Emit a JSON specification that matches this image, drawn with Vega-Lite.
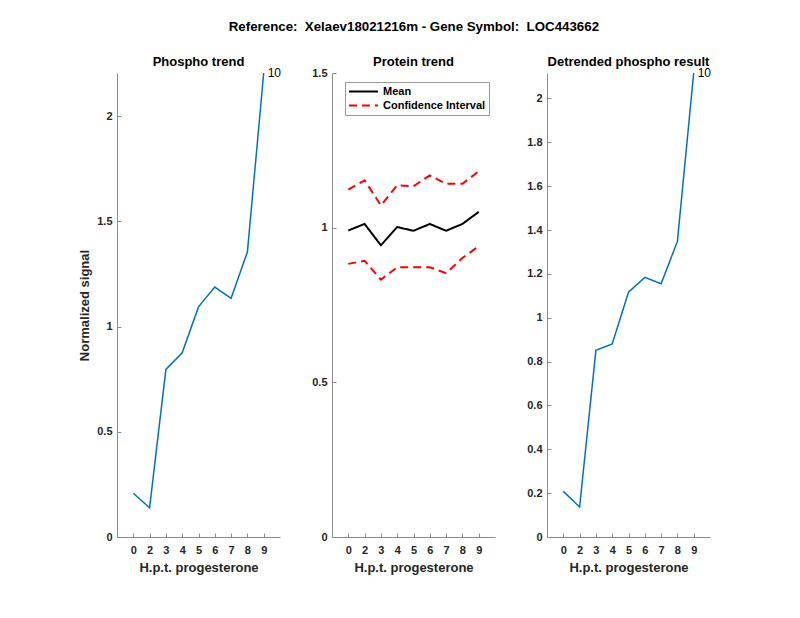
{
  "$schema": "https://vega.github.io/schema/vega-lite/v6.json",
  "padding": {"left": 78, "top": 19, "right": 5, "bottom": 5},
  "background": "white",
  "title": {"text": "Reference: \u00a0Xelaev18021216m - Gene Symbol: \u00a0LOC443662", "fontSize": 13.3, "fontWeight": "bold", "color": "#000000", "anchor": "middle", "offset": 23, "frame": "bounds", "dx": 19},
  "datasets": {
    "phospho": [
      {"hpt": 0, "signal": 0.208},
      {"hpt": 2, "signal": 0.139},
      {"hpt": 3, "signal": 0.797},
      {"hpt": 4, "signal": 0.876},
      {"hpt": 5, "signal": 1.094},
      {"hpt": 6, "signal": 1.188},
      {"hpt": 7, "signal": 1.135},
      {"hpt": 8, "signal": 1.355},
      {"hpt": 9, "signal": 2.206, "label": "10"}
    ],
    "protein": [
      {"hpt": 0, "signal": 0.991, "series": "Mean", "type": "Mean"},
      {"hpt": 2, "signal": 1.012, "series": "Mean", "type": "Mean"},
      {"hpt": 3, "signal": 0.943, "series": "Mean", "type": "Mean"},
      {"hpt": 4, "signal": 1.002, "series": "Mean", "type": "Mean"},
      {"hpt": 5, "signal": 0.990, "series": "Mean", "type": "Mean"},
      {"hpt": 6, "signal": 1.012, "series": "Mean", "type": "Mean"},
      {"hpt": 7, "signal": 0.990, "series": "Mean", "type": "Mean"},
      {"hpt": 8, "signal": 1.012, "series": "Mean", "type": "Mean"},
      {"hpt": 9, "signal": 1.051, "series": "Mean", "type": "Mean"},
      {"hpt": 0, "signal": 1.123, "series": "Upper", "type": "Confidence Interval"},
      {"hpt": 2, "signal": 1.153, "series": "Upper", "type": "Confidence Interval"},
      {"hpt": 3, "signal": 1.072, "series": "Upper", "type": "Confidence Interval"},
      {"hpt": 4, "signal": 1.137, "series": "Upper", "type": "Confidence Interval"},
      {"hpt": 5, "signal": 1.134, "series": "Upper", "type": "Confidence Interval"},
      {"hpt": 6, "signal": 1.169, "series": "Upper", "type": "Confidence Interval"},
      {"hpt": 7, "signal": 1.142, "series": "Upper", "type": "Confidence Interval"},
      {"hpt": 8, "signal": 1.142, "series": "Upper", "type": "Confidence Interval"},
      {"hpt": 9, "signal": 1.182, "series": "Upper", "type": "Confidence Interval"},
      {"hpt": 0, "signal": 0.883, "series": "Lower", "type": "Confidence Interval"},
      {"hpt": 2, "signal": 0.893, "series": "Lower", "type": "Confidence Interval"},
      {"hpt": 3, "signal": 0.832, "series": "Lower", "type": "Confidence Interval"},
      {"hpt": 4, "signal": 0.872, "series": "Lower", "type": "Confidence Interval"},
      {"hpt": 5, "signal": 0.872, "series": "Lower", "type": "Confidence Interval"},
      {"hpt": 6, "signal": 0.872, "series": "Lower", "type": "Confidence Interval"},
      {"hpt": 7, "signal": 0.853, "series": "Lower", "type": "Confidence Interval"},
      {"hpt": 8, "signal": 0.902, "series": "Lower", "type": "Confidence Interval"},
      {"hpt": 9, "signal": 0.940, "series": "Lower", "type": "Confidence Interval"}
    ],
    "detrended": [
      {"hpt": 0, "signal": 0.208},
      {"hpt": 2, "signal": 0.137},
      {"hpt": 3, "signal": 0.851},
      {"hpt": 4, "signal": 0.880},
      {"hpt": 5, "signal": 1.116},
      {"hpt": 6, "signal": 1.184},
      {"hpt": 7, "signal": 1.155},
      {"hpt": 8, "signal": 1.348},
      {"hpt": 9, "signal": 2.116, "label": "10"}
    ]
  },
  "hconcat": [
    {
      "width": 163, "height": 464,
      "title": "Phospho trend",
      "data": {"name": "phospho"},
      "layer": [
        {
          "mark": {"type": "line", "color": "#0072BD", "strokeWidth": 1.5},
          "encoding": {
            "x": {"field": "hpt", "type": "ordinal", "scale": {"type": "point", "padding": 1}, "axis": {"title": "H.p.t. progesterone"}},
            "y": {"field": "signal", "type": "quantitative", "scale": {"domain": [0, 2.206], "nice": false}, "axis": {"values": [0, 0.5, 1, 1.5, 2], "format": "~g", "title": "Normalized signal"}}
          }
        },
        {
          "transform": [{"filter": "datum.label"}],
          "mark": {"type": "text", "align": "left", "baseline": "middle", "dx": 4, "fontSize": 12, "color": "#000000"},
          "encoding": {
            "x": {"field": "hpt", "type": "ordinal"},
            "y": {"field": "signal", "type": "quantitative"},
            "text": {"field": "label"}
          }
        }
      ]
    },
    {
      "width": 163, "height": 464,
      "title": "Protein trend",
      "data": {"name": "protein"},
      "mark": {"type": "line", "strokeWidth": 2},
      "encoding": {
        "x": {"field": "hpt", "type": "ordinal", "scale": {"type": "point", "padding": 1}, "axis": {"title": "H.p.t. progesterone"}},
        "y": {"field": "signal", "type": "quantitative", "scale": {"domain": [0, 1.5], "nice": false}, "axis": {"values": [0, 0.5, 1, 1.5], "format": "~g", "title": null}},
        "detail": {"field": "series"},
        "color": {"field": "type", "type": "nominal", "scale": {"domain": ["Mean", "Confidence Interval"], "range": ["#000000", "#FF0000"]},
          "legend": {"title": null, "orient": "none", "legendX": 228, "legendY": 9, "symbolType": "stroke", "symbolSize": 841, "symbolStrokeWidth": 2, "labelFontSize": 11, "labelFontWeight": "bold", "labelColor": "#000000", "strokeColor": "#999999", "fillColor": "white", "padding": 3, "labelOffset": 4, "rowPadding": 1, "clipHeight": 13}},
        "strokeDash": {"field": "type", "type": "nominal", "scale": {"domain": ["Mean", "Confidence Interval"], "range": [[1, 0], [8, 5]]},
          "legend": {"title": null, "orient": "none", "legendX": 228, "legendY": 9, "symbolType": "stroke", "symbolSize": 841, "symbolStrokeWidth": 2, "labelFontSize": 11, "labelFontWeight": "bold", "labelColor": "#000000", "strokeColor": "#999999", "fillColor": "white", "padding": 3, "labelOffset": 4, "rowPadding": 1, "clipHeight": 13}}
      }
    },
    {
      "width": 163, "height": 464,
      "title": "Detrended phospho result",
      "data": {"name": "detrended"},
      "layer": [
        {
          "mark": {"type": "line", "color": "#0072BD", "strokeWidth": 1.5},
          "encoding": {
            "x": {"field": "hpt", "type": "ordinal", "scale": {"type": "point", "padding": 1}, "axis": {"title": "H.p.t. progesterone"}},
            "y": {"field": "signal", "type": "quantitative", "scale": {"domain": [0, 2.116], "nice": false}, "axis": {"values": [0, 0.2, 0.4, 0.6, 0.8, 1, 1.2, 1.4, 1.6, 1.8, 2], "format": "~g", "title": null}}
          }
        },
        {
          "transform": [{"filter": "datum.label"}],
          "mark": {"type": "text", "align": "left", "baseline": "middle", "dx": 4, "fontSize": 12, "color": "#000000"},
          "encoding": {
            "x": {"field": "hpt", "type": "ordinal"},
            "y": {"field": "signal", "type": "quantitative"},
            "text": {"field": "label"}
          }
        }
      ]
    }
  ],
  "spacing": 52,
  "bounds": "flush",
  "config": {
    "font": "Liberation Sans",
    "view": {"stroke": null},
    "axis": {"grid": false, "domainColor": "#8c8c8c", "tickColor": "#8c8c8c", "tickSize": -4, "labelPadding": 9, "labelFont": "Liberation Sans", "labelFontSize": 11, "labelFontWeight": "bold", "labelColor": "#262626", "titleFont": "Liberation Sans", "titleFontSize": 13, "titleFontWeight": "bold", "titleColor": "#262626"},
    "axisX": {"labelAngle": 0, "labelPadding": 11, "titlePadding": 6},
    "axisY": {"titlePadding": 5},
    "title": {"font": "Liberation Sans", "fontSize": 13, "fontWeight": "bold", "color": "#000000", "offset": -2, "frame": "group"},
    "legend": {"labelFont": "Liberation Sans"}
  }
}
